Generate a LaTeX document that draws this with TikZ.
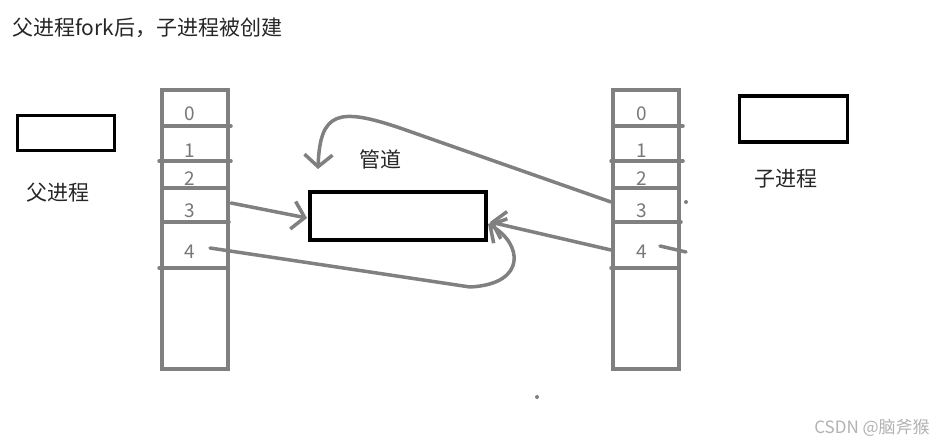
\documentclass[tikz,border=0pt]{standalone}
\usepackage{fontspec}
\setmainfont{Noto Sans CJK SC}
\usetikzlibrary{arrows.meta}
\definecolor{lg}{RGB}{128,128,128}
\definecolor{tg}{RGB}{120,120,120}
\tikzset{
  tbl/.style={draw=lg, line width=4pt, minimum width=66pt, minimum height=279pt, inner sep=0pt},
  rowline/.style={draw=lg, line width=3.5pt, line cap=round},
  blackbox/.style={draw=black, line width=3.5pt, inner sep=0pt},
  numlbl/.style={text=tg, font=\fontsize{19}{19}\selectfont, inner sep=0pt},
  lbl/.style={text=black!85, font=\fontsize{21}{21}\selectfont, inner sep=0pt},
  conn/.style={draw=lg, line width=3.5pt, line cap=round, line join=round},
  head/.style={-{Straight Barb[length=12pt,width=28pt,line width=3.5pt]}},
}
\begin{document}
\begin{tikzpicture}[x=1pt,y=-1pt]
\useasboundingbox[fill=white] (0,0) rectangle (936,443);
% title
\node[lbl, anchor=west] (title) at (12,28) {父进程fork后，子进程被创建};
% process boxes
\node[blackbox, minimum width=97pt, minimum height=35pt] (pp) at (66,133) {};
\node[lbl] (ppl) at (58,193) {父进程};
\node[blackbox, minimum width=108pt, minimum height=46pt] (cp) at (793.5,119) {};
\node[lbl] (cpl) at (786,179) {子进程};
% pipe
\node[blackbox, line width=4pt, minimum width=176pt, minimum height=48pt] (pipe) at (398,216) {};
\node[lbl] (pipel) at (380,159) {管道};
% tables
\node[tbl] (L) at (195,229.5) {};
\node[tbl] (R) at (646,229.5) {};
% rows left
\draw[rowline] (162,126) -- (231,126);
\draw[rowline] (159,161) -- (231,161);
\draw[rowline] (162,188) -- (228,188);
\draw[rowline] (162,222) -- (229,222);
\draw[rowline] (159,268) -- (228,268);
% rows right
\draw[rowline] (613,126) -- (683,126);
\draw[rowline] (611,161) -- (683,161);
\draw[rowline] (613,188) -- (679,188);
\draw[rowline] (613,222) -- (681,222);
\draw[rowline] (611,268) -- (679,268);
% numbers
\foreach \n/\y in {0/114,1/151,2/179,3/211,4/252}{
  \node[numlbl] (ln\n) at (190,\y) {\n};
  \node[numlbl] (rn\n) at (642,\y) {\n};
}
% connector endpoints
\coordinate (l3) at (231,203);
\coordinate (l4) at (210,248);
\coordinate (r3) at (611,202);
\coordinate (r4) at (611,250);
\coordinate (pipeL) at (307,218);
\coordinate (pipeR) at (488,224);
\coordinate (pipeR2) at (490,222);
\coordinate (pipeT) at (318,169);
% connectors
\draw[conn, head] (l3) -- (pipeL);
\draw[conn, head] (l4) -- (470,287) .. controls (528,284) and (522,243) .. (pipeR);
\draw[conn, head] (r4) -- (pipeR2);
\draw[conn, head] (r3) -- (400,128) .. controls (338,107) and (320,112) .. (pipeT);
% small marks
\coordinate (m1) at (686,202);
\coordinate (m2a) at (660,246);
\coordinate (m2b) at (686,252);
\fill[lg] (m1) circle (2pt);
\draw[rowline] (m2a) -- (m2b);
\coordinate (dot) at (537,397);
\fill[lg] (dot) circle (2pt);
% watermark
\node[text=black!30, font=\fontsize{17}{17}\selectfont, inner sep=0pt] (wm) at (872,428) {CSDN @脑斧猴};
\end{tikzpicture}
\end{document}
